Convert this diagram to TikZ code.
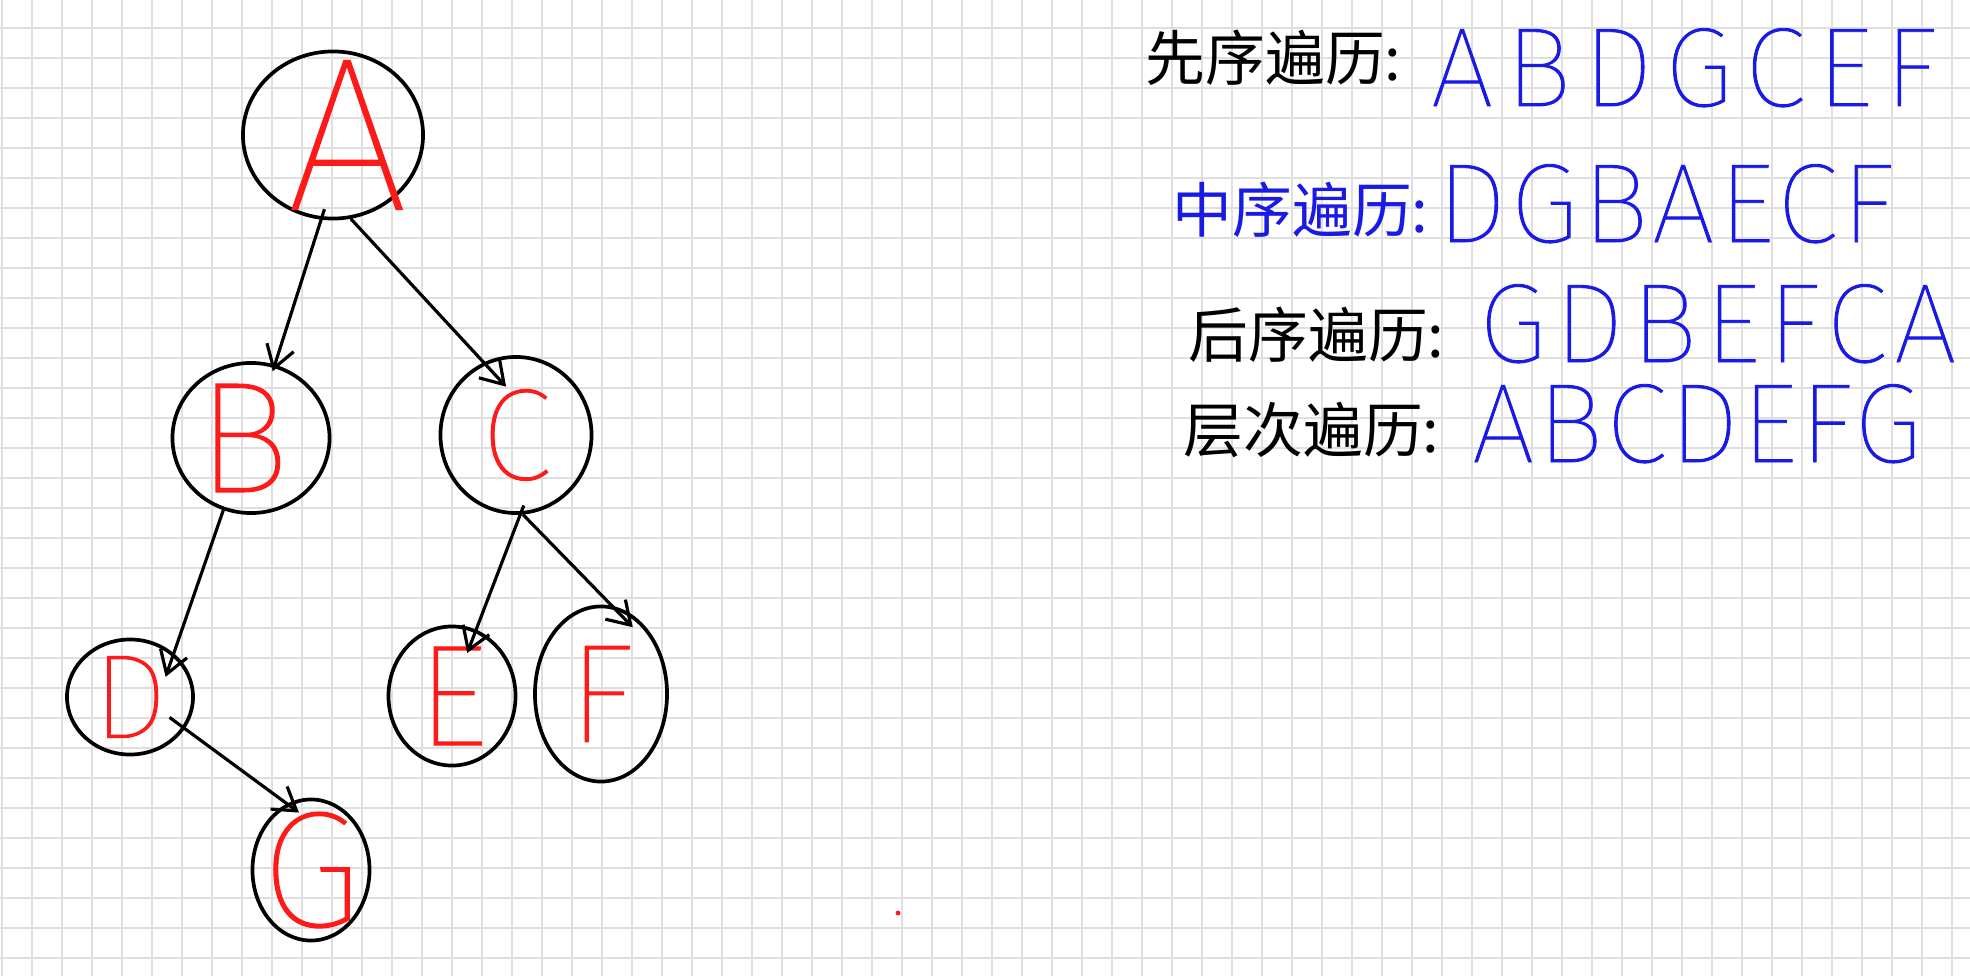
\documentclass[tikz,border=0pt]{standalone}
\usepackage{fontspec}
\usetikzlibrary{shapes.geometric, arrows.meta}
\newfontfamily\cjkfont{Noto Sans CJK SC}
\IfFontExistsTF{Fira Sans Thin}{\newfontfamily\handfont{Fira Sans Thin}[FakeBold=0.8]}{\newfontfamily\handfont{Fira Sans}}
\definecolor{inkred}{HTML}{FF1A1A}
\definecolor{inkblue}{HTML}{1A1AE6}
\definecolor{gridgray}{HTML}{DFDFDF}

\begin{document}
\begin{tikzpicture}[x=0.01cm, y=-0.01cm,
    treenode/.style={draw, ellipse, line width=1.05pt, inner sep=0pt},
    letter/.style={text=inkred, inner sep=0pt, font=\handfont\fontsize{#1}{#1}\selectfont},
    edge/.style={-{Straight Barb[length=2.2mm, width=2.8mm, line width=0.9pt]}, line width=0.9pt},
    caption/.style={anchor=west, inner sep=0pt, font=\cjkfont\fontsize{17pt}{17pt}\selectfont},
    order/.style={anchor=base west, inner sep=0pt, text=inkblue, font=\handfont\fontsize{32pt}{32pt}\selectfont}]
	\fill[white] (0,0) rectangle (1970,976);
	\useasboundingbox (0,0) rectangle (1970,976);
	% squared paper
	\foreach \gx in {2,32,...,1952}
	\draw[gridgray, line width=0.5pt] (\gx,0) -- (\gx,976);
	\foreach \gy in {28,58,...,958}
	\draw[gridgray, line width=0.5pt] (0,\gy) -- (1970,\gy);
	% tree
	\node[treenode, minimum width=1.80cm, minimum height=1.67cm, label={[letter=62pt, xshift=0.14cm]center:A}] (A) at (333,135) {};
	\node[treenode, minimum width=1.57cm, minimum height=1.50cm, label={[letter=45pt, xshift=-0.08cm]center:B}] (B) at (251,438) {};
	\node[treenode, minimum width=1.51cm, minimum height=1.56cm, label={[letter=37pt]center:C}] (C) at (516,435) {};
	\node[treenode, minimum width=1.26cm, minimum height=1.15cm, label={[letter=34pt]center:D}] (D) at (130,697) {};
	\node[treenode, minimum width=1.27cm, minimum height=1.39cm, label={[letter=41pt]center:E}] (E) at (452,696) {};
	\node[treenode, minimum width=1.32cm, minimum height=1.75cm, label={[letter=40pt]center:F}] (F) at (601,694) {};
	\node[treenode, minimum width=1.17cm, minimum height=1.41cm, label={[letter=47pt]center:G}] (G) at (311,870) {};
	\foreach \s/\sa/\si/\t/\ta/\ti in {A/262/0.11/B/72/0.07, A/282/0/C/114/0.33, B/249/0/D/45/0.25, C/273/0.10/E/70/0.25, C/275/0/F/83/0.30, D/330/0.19/G/110/0.15}
	\draw[edge, shorten <=-\si cm, shorten >=-\ti cm] (\s.\sa) -- (\t.\ta);
	\fill[inkred] (898,913) circle (0.7pt);
	% traversal orders
	\node[caption] (pre) at (1145,58) {先序遍历:};
	\node[caption, text=inkblue] (in) at (1172,210) {中序遍历:};
	\node[caption] (post) at (1188,335) {后序遍历:};
	\node[caption] (level) at (1183,430) {层次遍历:};
	\node[order] (preseq) at (1430,106) {\addfontfeature{LetterSpace=10.5}ABDGCEF};
	\node[order] (inseq) at (1436,242) {\addfontfeature{LetterSpace=3.5}DGBAECF};
	\node[order] (postseq) at (1478,362) {\addfontfeature{LetterSpace=6.5}GDBEFCA};
	\node[order] (levelseq) at (1471,462) {\addfontfeature{LetterSpace=2.4}ABCDEFG};
\end{tikzpicture}
\end{document}
